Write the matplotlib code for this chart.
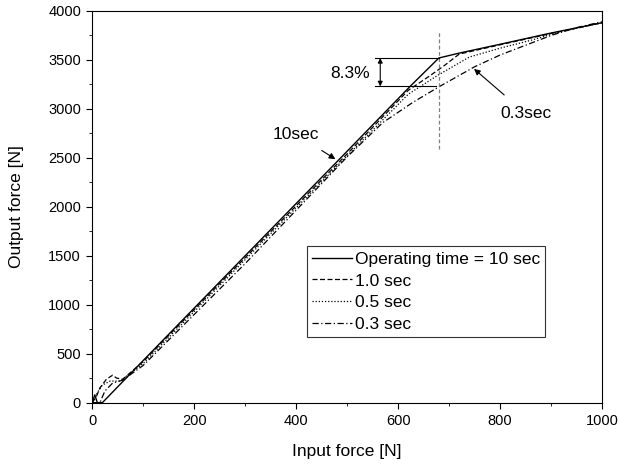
import matplotlib
matplotlib.use("Agg")
import matplotlib.pyplot as plt

plt.rcParams['font.family'] = ['Liberation Sans', 'DejaVu Sans']

# Operating time = 10 sec (solid)
x_10 = [0, 5, 10, 20, 100, 300, 480, 623, 680, 720, 800, 900, 1000]
y_10 = [0, 80, 0, 0, 430, 1500, 2460, 3227, 3520, 3570, 3660, 3775, 3880]

# 1.0 sec (dashed)
x_10s = [0, 8, 15, 28, 40, 48, 60, 100, 300, 500, 620, 660, 690, 720, 800, 900, 1000]
y_10s = [0, 60, 150, 240, 280, 250, 240, 420, 1480, 2540, 3190, 3330, 3440, 3560, 3655, 3770, 3880]

# 0.5 sec (dotted)
x_05 = [0, 10, 20, 35, 55, 100, 300, 500, 620, 680, 740, 800, 860, 920, 1000]
y_05 = [0, 100, 180, 220, 220, 400, 1460, 2520, 3150, 3350, 3530, 3620, 3700, 3790, 3880]

# 0.3 sec (dash-dot)
x_03 = [0, 15, 25, 40, 60, 100, 300, 500, 570, 630, 680, 750, 800, 850, 900, 950, 1000]
y_03 = [0, 0, 120, 200, 230, 380, 1420, 2510, 2860, 3070, 3225, 3430, 3550, 3650, 3750, 3830, 3890]

labels = ['Operating time = 10 sec', '1.0 sec', '0.5 sec', '0.3 sec']

fig = plt.figure(figsize=(6.19, 4.66), dpi=100)
ax = fig.add_axes([0.149, 0.136, 0.8235, 0.8404])

ax.plot(x_10, y_10, color='black', lw=1.0, ls='-', label=labels[0])
ax.plot(x_10s, y_10s, color='black', lw=0.9, ls=(0, (4, 2)), label=labels[1])
ax.plot(x_05, y_05, color='black', lw=0.9, ls=(0, (1, 1.5)), label=labels[2])
ax.plot(x_03, y_03, color='black', lw=0.9, ls=(0, (5, 2, 1, 2)), label=labels[3])

# annotations
ax.plot([680, 680], [2590, 3790], color='gray', lw=0.9, ls=(0, (3, 2)))
ax.plot([555, 680], [3520, 3520], color='black', lw=0.8)
ax.plot([555, 675], [3230, 3230], color='black', lw=0.8)
ax.annotate('', xy=(565, 3520), xytext=(565, 3230),
            arrowprops=dict(arrowstyle='<|-|>', color='black', lw=0.8,
                            mutation_scale=7, shrinkA=0, shrinkB=0))
ax.text(545, 3360, '8.3%', fontsize=12.5, ha='right', va='center')
ax.annotate('10sec', xy=(477, 2487), xytext=(400, 2741), fontsize=12.5,
            ha='center', va='center',
            arrowprops=dict(arrowstyle='-|>', color='black', lw=0.8,
                            mutation_scale=9, shrinkA=8, shrinkB=0))
ax.annotate('0.3sec', xy=(749, 3409), xytext=(850, 2954), fontsize=12.5,
            ha='center', va='center',
            arrowprops=dict(arrowstyle='-|>', color='black', lw=0.8,
                            mutation_scale=9, shrinkA=9, shrinkB=0))

ax.set_xlim(0, 1000)
ax.set_ylim(0, 4000)
ax.set_xticks([0, 200, 400, 600, 800, 1000])
ax.set_xticks(range(100, 1000, 200), minor=True)
ax.set_yticks(range(0, 4001, 500))
ax.set_yticks(range(250, 4000, 500), minor=True)
ax.tick_params(which='both', direction='out', labelsize=10.5, top=False, right=False)
ax.tick_params(which='major', length=4, pad=4)
ax.tick_params(which='minor', length=2.5)
ax.set_xlabel('Input force [N]', fontsize=12.5, labelpad=12)
ax.set_ylabel('Output force [N]', fontsize=12.5, labelpad=17.5)

leg = ax.legend(loc='lower left', bbox_to_anchor=(0.421, 0.167), borderaxespad=0,
                fontsize=12.5, frameon=True, fancybox=False, edgecolor='black',
                handlelength=2.3, handletextpad=0.15, labelspacing=0.38,
                borderpad=0.3)
leg.get_frame().set_linewidth(0.8)

fig.savefig('out.png', dpi=100)
